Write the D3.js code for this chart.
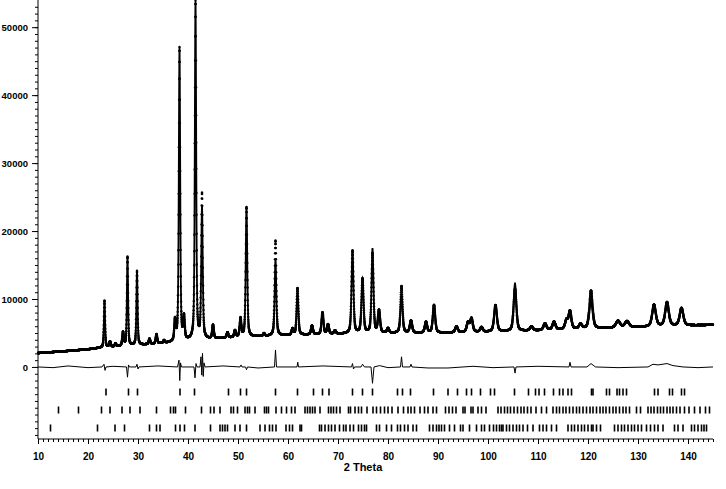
<!DOCTYPE html>
<html>
<head>
<meta charset="utf-8">
<script src="https://cdn.jsdelivr.net/npm/d3@7"></script>
<style>
  body { margin: 0; background: #fff; }
  svg { display: block; font-family: "Liberation Sans", Arial, sans-serif; }
  .tick text { font-weight: bold; font-size: 10px; fill: #000; font-family: "Liberation Sans", Arial, sans-serif; }
  .yaxis .tick text { font-size: 9.5px; }
  .domain, .tick line { stroke: #000; }
</style>
</head>
<body>
<div id="chart"></div>
<script>
// Background of the pattern (2 Theta, counts)
const bgPos = [10, 15, 20, 22, 25, 30, 35, 40, 45, 50, 55, 60, 70, 80, 90, 100, 110, 120, 130, 145];
const bgVal = [2050, 2300, 2600, 2780, 2950, 3200, 3450, 3800, 4100, 4350, 4500, 4650, 4850, 4950, 5000, 5150, 5350, 5600, 5850, 6200];

// Reflections: position, height above background (obs / calc), FWHM
const peakPos  = [23.3, 24.4, 25.5, 27.0, 27.9, 29.8, 32.3, 33.7, 35.2, 37.4, 38.3, 39.2, 41.5, 42.8, 45.0, 47.9, 49.4, 50.5, 51.7, 55.2, 57.5, 60.9, 61.9, 64.8, 66.9, 68.0, 69.4, 72.9, 74.9, 76.9, 78.2, 80.0, 82.7, 84.6, 87.6, 89.2, 93.7, 96.0, 96.7, 98.7, 101.5, 105.4, 108.7, 111.4, 113.2, 115.7, 116.4, 118.5, 120.6, 126.0, 127.8, 133.2, 135.8, 138.7];
const peakObs  = [6900, 800, 450, 2000, 13100, 10900, 800, 1400, 400, 3000, 43200, 3300, 49900, 21300, 2000, 800, 1000, 2700, 19100, 400, 14000, 900, 6900, 1300, 3200, 1400, 500, 12200, 8000, 11700, 3300, 700, 6900, 1800, 1600, 4100, 900, 1400, 2000, 700, 3900, 6200, 600, 1000, 1200, 1300, 2600, 700, 5600, 1000, 900, 3200, 3500, 2600];
const peakCalc = [6900, 800, 450, 2000, 13100, 10900, 800, 1400, 400, 3000, 43200, 3300, 49900, 19300, 2000, 800, 1000, 2700, 19100, 400, 11200, 900, 6400, 1300, 3200, 1400, 500, 12200, 8000, 12400, 3300, 700, 5700, 1800, 1600, 4100, 900, 1400, 2000, 700, 3900, 7000, 600, 1000, 1200, 1300, 2000, 700, 4000, 1000, 900, 3000, 3200, 2500];
const peakFwhm = [0.27, 0.35, 0.35, 0.35, 0.28, 0.28, 0.35, 0.35, 0.35, 0.35, 0.32, 0.35, 0.32, 0.35, 0.38, 0.4, 0.4, 0.38, 0.36, 0.4, 0.38, 0.4, 0.4, 0.45, 0.45, 0.45, 0.45, 0.45, 0.48, 0.45, 0.5, 0.5, 0.48, 0.55, 0.55, 0.55, 0.6, 0.6, 0.6, 0.6, 0.65, 0.65, 0.7, 0.7, 0.7, 0.7, 0.65, 0.7, 0.75, 1.0, 1.0, 0.85, 0.85, 0.85];

// Difference curve (obs - calc), vertices
const diffPos = [10, 13, 16, 20, 22.8, 23.2, 23.4, 23.6, 25, 27.7, 27.9, 28.1, 28.3, 29.6, 29.8, 30.0, 30.2, 34, 37.9, 38.2, 38.35, 38.5, 38.7, 41.2, 41.4, 41.6, 41.8, 42.4, 42.6, 42.75, 42.9, 43.05, 43.2, 43.4, 47, 50.4, 50.6, 50.8, 51.5, 51.7, 51.9, 54, 57.3, 57.5, 57.7, 61.8, 61.95, 62.1, 67, 72.7, 72.9, 73.1, 73.3, 74.6, 74.9, 75.3, 76.6, 76.9, 77.2, 78.3, 80, 82.5, 82.7, 82.9, 84.4, 84.6, 84.8, 88, 92, 97, 101, 105.2, 105.4, 105.6, 110, 116.2, 116.4, 116.6, 119.8, 120.6, 121.5, 126, 132, 133, 134, 135.8, 137, 139, 142, 145];
const diffVal = [0, -100, 150, -100, 0, 400, -500, 0, 100, 0, -1500, 300, 0, 0, 400, -300, 0, 150, 0, 1000, -2000, 600, 0, 0, -1600, 500, 0, 0, 1500, -1200, 2000, -1400, 600, 0, 150, 0, 300, 0, 0, -400, 0, -150, 0, 2500, 0, 0, 700, 0, 150, 0, 500, -300, 0, 0, 400, 0, 0, -2400, 0, 200, -100, 0, 1500, 0, 0, 400, 0, -150, -150, 100, -100, 0, -900, 0, 100, 0, 700, 0, 0, 500, 0, -100, 0, 400, 300, 500, 200, 0, -100, 0];

// Reflection markers for the three phases
const phase1 = [23.6, 28.1, 29.9, 38.4, 41.3, 48.1, 50.5, 51.7, 57.5, 61.9, 65.1, 66.9, 68.2, 72.9, 74.9, 76.9, 81.9, 82.9, 84.5, 89.1, 92.0, 93.9, 95.7, 96.7, 98.5, 100.5, 101.3, 105.3, 108.1, 109.5, 110.2, 111.3, 113.1, 114.3, 115.0, 116.0, 116.7, 120.7, 121.0, 123.7, 124.3, 125.8, 126.3, 127.0, 127.7, 133.3, 134.0, 136.3, 136.9, 138.7, 139.3];
const phase2 = [14.1, 18.1, 22.7, 24.4, 26.8, 28.4, 30.4, 33.7, 36.5, 37.1, 37.5, 39.5, 42.7, 44.5, 45.2, 46.4, 48.6, 49.1, 49.9, 51.4, 51.9, 52.3, 53.4, 55.3, 55.7, 56.1, 57.6, 58.7, 59.7, 60.7, 61.4, 63.4, 63.9, 64.4, 64.9, 65.4, 66.4, 68.1, 68.6, 69.1, 69.7, 70.4, 72.1, 72.5, 73.4, 74.1, 74.7, 75.8, 77.0, 77.7, 78.5, 79.3, 80.0, 80.8, 82.0, 83.1, 84.0, 84.6, 85.3, 86.4, 87.3, 88.0, 89.0, 89.7, 91.5, 92.2, 92.9, 93.6, 95.0, 95.4, 96.6, 97.0, 98.0, 98.7, 99.6, 102.0, 102.6, 103.3, 103.9, 104.5, 105.2, 105.9, 106.6, 107.2, 107.9, 108.6, 109.6, 110.7, 111.7, 113.0, 113.7, 114.3, 115.0, 115.6, 116.3, 117.0, 117.7, 118.3, 119.0, 119.7, 120.4, 121.0, 121.7, 122.4, 123.0, 123.6, 124.3, 125.0, 125.6, 126.3, 127.0, 127.6, 128.3, 129.7, 130.5, 132.0, 132.6, 133.2, 133.9, 134.5, 135.1, 135.8, 136.4, 137.0, 137.7, 138.4, 139.3, 140.2, 141.3, 142.4, 143.5, 144.3];
const phase3 = [12.5, 21.9, 25.4, 27.3, 32.3, 33.7, 34.4, 37.5, 38.4, 39.3, 41.4, 44.5, 46.4, 46.9, 47.4, 47.9, 49.4, 50.4, 51.7, 54.4, 55.4, 56.3, 56.9, 57.6, 59.6, 60.3, 60.9, 62.4, 62.7, 66.3, 66.7, 67.4, 68.1, 68.7, 69.4, 70.3, 71.1, 71.6, 72.4, 73.1, 74.1, 74.7, 75.3, 75.7, 77.7, 78.3, 79.7, 80.7, 81.9, 82.5, 83.3, 84.0, 85.0, 85.7, 88.3, 89.0, 89.7, 90.2, 90.7, 91.3, 92.3, 93.3, 94.5, 95.0, 96.3, 97.7, 98.7, 99.3, 100.3, 101.1, 101.7, 102.3, 102.7, 103.0, 103.7, 104.3, 105.0, 105.7, 106.3, 107.0, 107.9, 109.0, 110.3, 111.0, 111.7, 112.7, 113.7, 116.0, 116.7, 117.3, 118.0, 118.7, 119.3, 120.0, 120.7, 121.0, 121.7, 122.5, 125.3, 126.0, 126.7, 127.3, 128.0, 128.7, 129.3, 130.0, 130.7, 131.7, 132.5, 133.3, 134.0, 135.0, 137.3, 138.0, 139.0, 140.7, 141.3, 142.0, 142.7, 143.2, 143.7];

// Axis ticks
const yLabels = [0, 10000, 20000, 30000, 40000, 50000];
const xLabels = [10, 20, 30, 40, 50, 60, 70, 80, 90, 100, 110, 120, 130, 140];

const width = 726;
const height = 489;

const svg = d3.select("#chart").append("svg")
  .attr("width", width)
  .attr("height", height);

const x = d3.scaleLinear().domain([10, 145]).range([38, 713]);
const y = d3.scaleLinear().domain([-10600, 54000]).range([439, 0]);
const bg = d3.scaleLinear().domain(bgPos).range(bgVal);

// pseudo-Voigt sum over the read reflections
function profile(t, heights) {
  let v = bg(t);
  for (let i = 0; i < peakPos.length; i++) {
    const d = (t - peakPos[i]) / peakFwhm[i];
    if (Math.abs(d) > 40) continue;
    const g = Math.exp(-4 * Math.LN2 * d * d);
    const l = 1 / (1 + 4 * d * d);
    v += heights[i] * (0.5 * g + 0.5 * l);
  }
  return v;
}

const grid = d3.range(10, 145.0001, 0.02);
const obsData = grid.map((t) => [t, profile(t, peakObs)]);
const calcData = grid.map((t) => [t, profile(t, peakCalc)]);
const diffData = diffPos.map((t, i) => [t, diffVal[i]]);

// Axes
svg.append("g")
  .attr("transform", "translate(38,0)")
  .call(d3.axisLeft(y).tickValues(d3.range(-10000, 54000, 1000)).tickSize(3).tickFormat(""))
  .call((g) => g.select(".domain").remove());

svg.append("g")
  .attr("class", "yaxis")
  .attr("transform", "translate(38,0)")
  .call(d3.axisLeft(y).tickValues(yLabels).tickSize(6).tickPadding(4).tickFormat(d3.format("d")))
  .call((g) => g.select(".domain").attr("d", `M0,${y(54000)}V${y(-10600)}`));

svg.append("g")
  .attr("transform", "translate(0,439)")
  .call(d3.axisBottom(x).tickValues(d3.range(10, 146, 1)).tickSize(3).tickFormat(""))
  .call((g) => g.select(".domain").remove());

svg.append("g")
  .attr("transform", "translate(0,439)")
  .call(d3.axisBottom(x).tickValues(xLabels).tickSize(5).tickPadding(9).tickFormat(d3.format("d")))
  .call((g) => g.select(".domain").attr("d", `M${x(10)},0H${x(145)}`));

svg.append("text")
  .attr("x", x(75))
  .attr("y", 471)
  .attr("text-anchor", "middle")
  .style("font-size", "11px")
  .style("font-weight", "bold")
  .text("2 Theta");

// Calculated profile
const line = d3.line().x((d) => x(d[0])).y((d) => y(d[1]));

svg.append("path")
  .datum(calcData)
  .attr("fill", "none")
  .attr("stroke", "#000")
  .attr("stroke-width", 1.8)
  .attr("d", line);

// Observed points
svg.append("g")
  .selectAll("circle")
  .data(obsData)
  .join("circle")
  .attr("cx", (d) => x(d[0]))
  .attr("cy", (d) => y(d[1]))
  .attr("r", 1.2)
  .attr("fill", "#000");

// Difference curve
svg.append("path")
  .datum(diffData)
  .attr("fill", "none")
  .attr("stroke", "#000")
  .attr("stroke-width", 1)
  .attr("d", line);

// Reflection markers
const rows = d3.scalePoint().domain(["p1", "p2", "p3"]).range([392, 428]);
const phases = [["p1", phase1], ["p2", phase2], ["p3", phase3]];

phases.forEach(([key, list]) => {
  svg.append("g")
    .selectAll("rect")
    .data(list)
    .join("rect")
    .attr("x", (d) => x(d) - 0.8)
    .attr("y", rows(key) - 3.5)
    .attr("width", 1.6)
    .attr("height", 7)
    .attr("fill", "#000");
});
</script>
</body>
</html>
